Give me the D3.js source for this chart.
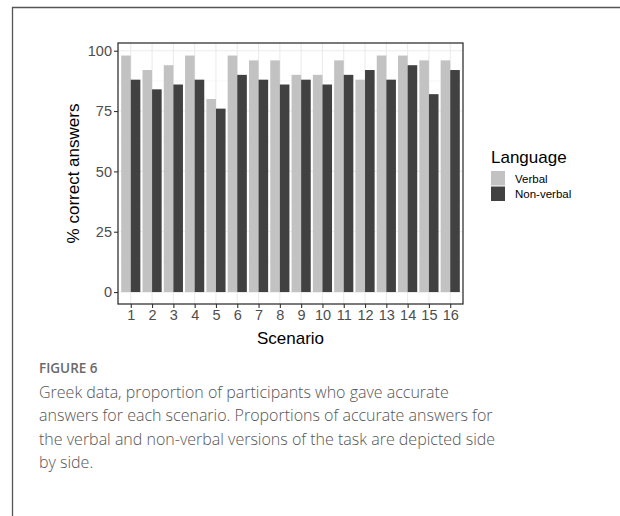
<!DOCTYPE html>
<html>
<head>
<meta charset="utf-8">
<script src="https://cdn.jsdelivr.net/npm/d3@7"></script>
<style>
  html, body { margin: 0; padding: 0; background: #fff; }
  svg { display: block; }
</style>
</head>
<body>
<svg id="chart" width="620" height="516"></svg>
<script>
const scenarios = ["1","2","3","4","5","6","7","8","9","10","11","12","13","14","15","16"];
const seriesNames = ["Verbal", "Non-verbal"];
const verbal    = [98, 92, 94, 98, 80, 98, 96, 96, 90, 90, 96, 88, 98, 98, 96, 96];
const nonVerbal = [88, 84, 86, 88, 76, 90, 88, 86, 88, 86, 90, 92, 88, 94, 82, 92];
const yTicks = [0, 25, 50, 75, 100];
const yMinor = [12.5, 37.5, 62.5, 87.5];
const captionLabel = "FIGURE 6";
const captionLines = [
  "Greek data, proportion of participants who gave accurate",
  "answers for each scenario. Proportions of accurate answers for",
  "the verbal and non-verbal versions of the task are depicted side",
  "by side."
];

const colors = { "Verbal": "#c2c2c2", "Non-verbal": "#414141" };
const svg = d3.select("#chart");
const chartFont = "'Liberation Sans', Arial, sans-serif";

// outer frame
svg.append("path").attr("d", "M12.5,516 L12.5,7.5 L620,7.5")
  .attr("fill", "none").attr("stroke", "#555").attr("stroke-width", 1.3);

const panel = { left: 118, right: 463, top: 43, bottom: 304 };

const n = scenarios.length;
const unit = (panel.right - panel.left) / (n - 1 + 1.2);
const xc = d3.scalePoint().domain(scenarios)
  .range([panel.left + 0.6 * unit, panel.right - 0.6 * unit]);
const xSub = d3.scaleBand().domain(seriesNames).range([-0.45 * unit, 0.45 * unit]);

const y = d3.scaleLinear().domain([-4.95, 103.2]).range([panel.bottom, panel.top]);

const g = svg.append("g");

// grid
g.selectAll(".ymin").data(yMinor).enter().append("line")
  .attr("x1", panel.left).attr("x2", panel.right)
  .attr("y1", d => y(d)).attr("y2", d => y(d))
  .attr("stroke", "#f2f2f2").attr("stroke-width", 0.6);
g.selectAll(".ymaj").data(yTicks).enter().append("line")
  .attr("x1", panel.left).attr("x2", panel.right)
  .attr("y1", d => y(d)).attr("y2", d => y(d))
  .attr("stroke", "#ebebeb").attr("stroke-width", 1.1);
g.selectAll(".xmaj").data(scenarios).enter().append("line")
  .attr("x1", d => xc(d)).attr("x2", d => xc(d))
  .attr("y1", panel.top).attr("y2", panel.bottom)
  .attr("stroke", "#ebebeb").attr("stroke-width", 1.1);

// bars
const data = scenarios.map((s, i) => ({ s, vals: [
  { k: "Verbal", v: verbal[i] }, { k: "Non-verbal", v: nonVerbal[i] }] }));
const grp = g.selectAll(".grp").data(data).enter().append("g")
  .attr("transform", d => `translate(${xc(d.s)},0)`);
grp.selectAll("rect").data(d => d.vals).enter().append("rect")
  .attr("x", d => xSub(d.k)).attr("width", xSub.bandwidth())
  .attr("y", d => y(d.v)).attr("height", d => y(0) - y(d.v))
  .attr("fill", d => colors[d.k]);

// panel border
g.append("rect").attr("x", panel.left).attr("y", panel.top)
  .attr("width", panel.right - panel.left).attr("height", panel.bottom - panel.top)
  .attr("fill", "none").attr("stroke", "#333").attr("stroke-width", 1.3);

// axes
const xAxis = d3.axisBottom(xc).tickSize(4).tickPadding(2);
const yAxis = d3.axisLeft(y).tickValues(yTicks).tickSize(4).tickPadding(2);
const ax = svg.append("g").attr("transform", `translate(0,${panel.bottom})`).call(xAxis);
const ay = svg.append("g").attr("transform", `translate(${panel.left},0)`).call(yAxis);
[ax, ay].forEach(a => {
  a.select(".domain").remove();
  a.selectAll(".tick line").attr("stroke", "#333").attr("stroke-width", 1.1);
  a.selectAll(".tick text").attr("fill", "#4d4d4d").attr("font-size", 14.5)
    .attr("font-family", chartFont);
});

// axis titles
svg.append("text").attr("x", (panel.left + panel.right) / 2).attr("y", 344)
  .attr("text-anchor", "middle").attr("font-family", chartFont).attr("font-size", 17)
  .attr("fill", "#000").text("Scenario");
svg.append("text").attr("transform", `translate(79,${(panel.top + panel.bottom) / 2}) rotate(-90)`)
  .attr("text-anchor", "middle").attr("font-family", chartFont).attr("font-size", 17)
  .attr("fill", "#000").text("% correct answers");

// legend
const lg = svg.append("g").attr("transform", "translate(491,0)");
lg.append("text").attr("x", 0).attr("y", 163).attr("font-family", chartFont)
  .attr("font-size", 17).attr("fill", "#000").text("Language");
seriesNames.forEach((k, i) => {
  lg.append("rect").attr("x", 0).attr("y", 171 + i * 15.5).attr("width", 14).attr("height", 14.5)
    .attr("fill", colors[k]);
  lg.append("text").attr("x", 24).attr("y", 178.5 + i * 15.5).attr("dy", "0.35em")
    .attr("font-family", chartFont).attr("font-size", 11.5).attr("fill", "#000").text(k);
});

// caption
const capFont = "'Open Sans', 'Noto Sans', sans-serif";
svg.append("text").attr("x", 39).attr("y", 373).attr("font-family", capFont)
  .attr("font-size", 13.5).attr("font-weight", 600).attr("fill", "#6a6a6a").text(captionLabel);
svg.selectAll(".cap").data(captionLines).enter().append("text")
  .attr("x", 39).attr("y", (d, i) => 398 + i * 23.3)
  .attr("font-family", capFont).attr("font-size", 16).attr("font-weight", 300)
  .attr("fill", "#555").text(d => d);
</script>
</body>
</html>
